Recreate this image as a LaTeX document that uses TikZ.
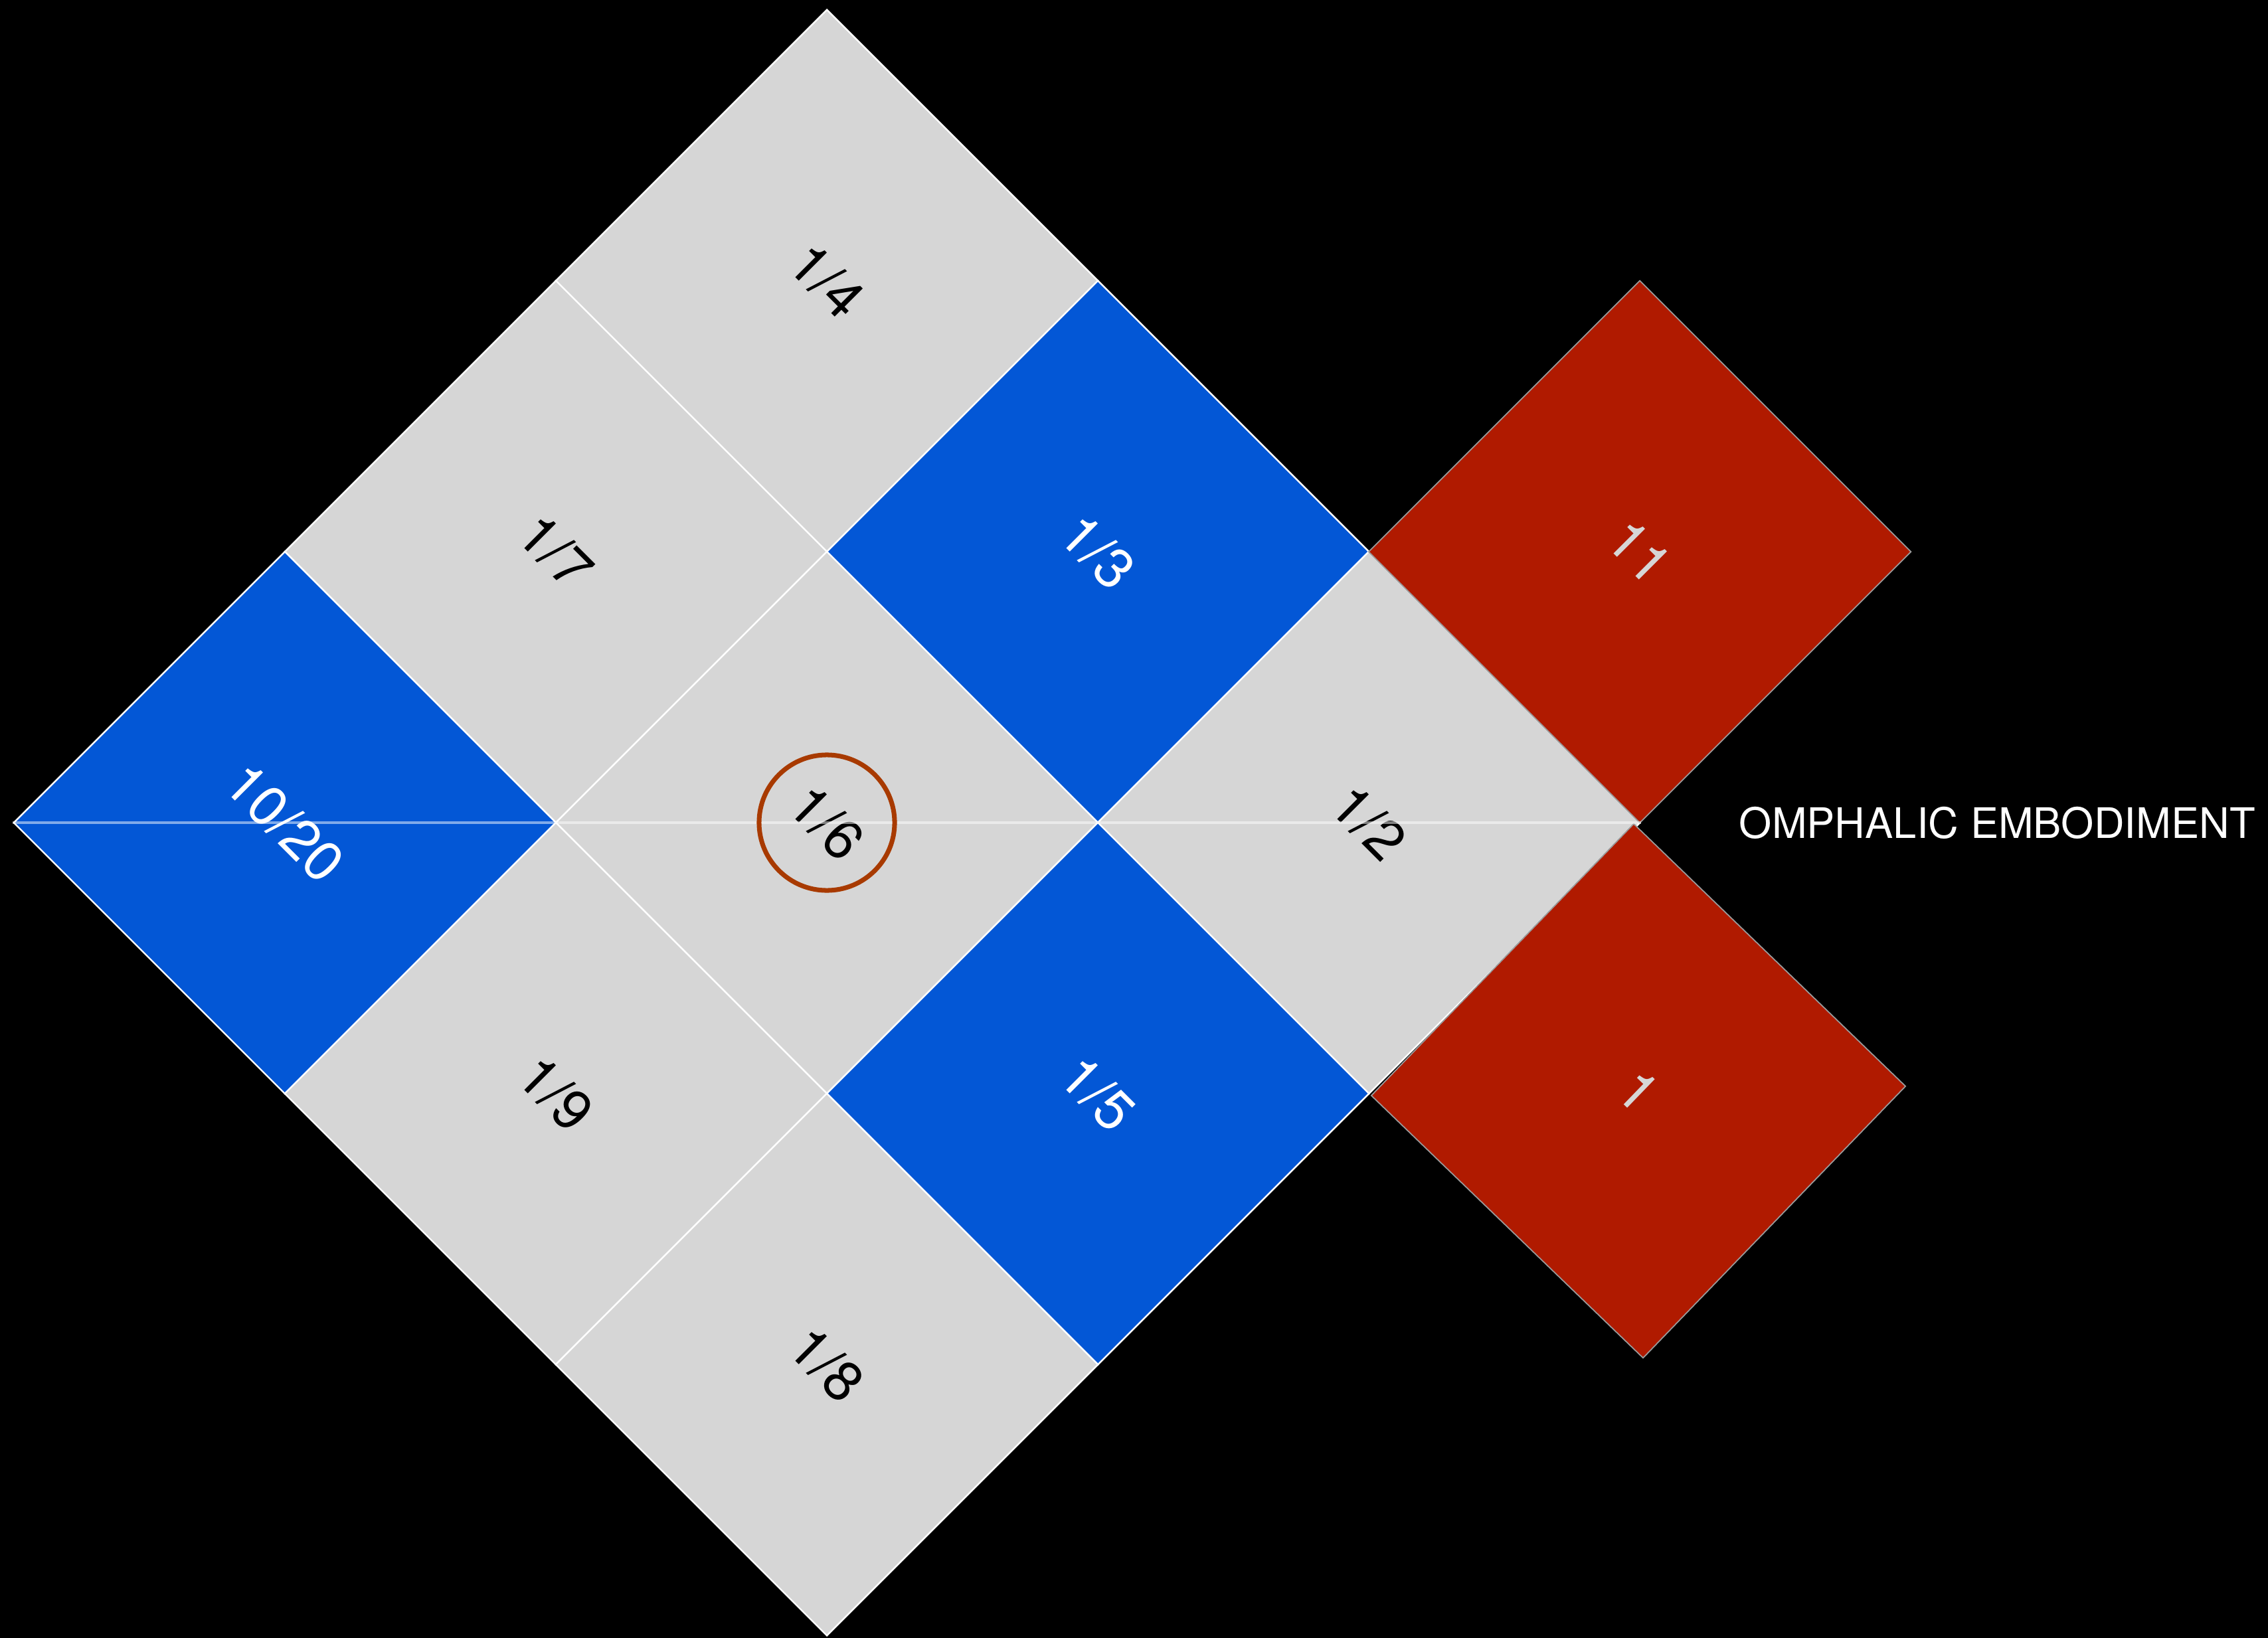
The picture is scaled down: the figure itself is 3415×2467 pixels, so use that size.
\documentclass[tikz,border=0pt]{standalone}
\usepackage{fontspec}
\setmainfont{TeX Gyre Heros}
\usetikzlibrary{positioning}
\definecolor{Tile}{HTML}{D6D6D6}
\definecolor{Cobalt}{HTML}{0357D6}
\definecolor{Brick}{HTML}{B01A00}
\definecolor{Rust}{HTML}{A83A00}
\definecolor{Rim}{HTML}{9A9A9A}
\tikzset{
    tile/.style={rectangle, rotate=-45, minimum size=5.77cm, inner sep=0pt, draw=white, line width=0.7pt, font=\fontsize{24}{28}\selectfont},
    greytile/.style={tile, fill=Tile, text=black},
    bluetile/.style={tile, fill=Cobalt, text=white},
    redtile/.style={tile, fill=Brick, text=Tile, draw=Rim, line width=0.5pt},
    midline/.style={draw=white, opacity=0.5, line width=1.2pt},
    ring/.style={circle, draw=Rust, line width=2pt, minimum size=2.04cm, inner sep=0pt},
}
\begin{document}
\begin{tikzpicture}[x=0.01cm, y=-0.01cm]
    \fill[black] (0,0) rectangle (3415,2467);
    \useasboundingbox (0,0) rectangle (3415,2467);

    % the 3x3 grid
    \node[greytile] (quarter) at (1245,423) {1/4};
    \node[greytile] (seventh) at (837,831) {1/7};
    \node[bluetile] (third) at (1653,831) {1/3};
    \node[bluetile] (twenty) at (429,1239) {10/20};
    \node[greytile] (sixth) at (1245,1239) {1/6};
    \node[greytile] (half) at (2061,1239) {1/2};
    \node[greytile] (ninth) at (837,1647) {1/9};
    \node[bluetile] (fifth) at (1653,1647) {1/5};
    \node[greytile] (eighth) at (1245,2055) {1/8};

    % the two red ones
    \node[redtile] (eleven) at (2469,831) {11};
    \node[redtile, rotate=1, minimum size=5.685cm] (one) at (2467,1643) {1};

    \draw[midline] (twenty.south west) -- (half.north east);
    \node[ring] (navel) at (sixth) {};

    \node[right=1.47cm of half.north east, anchor=west, inner sep=0pt, text=white, font=\fontsize{18}{22}\selectfont] (tag) {OMPHALIC EMBODIMENT};
\end{tikzpicture}
\end{document}
